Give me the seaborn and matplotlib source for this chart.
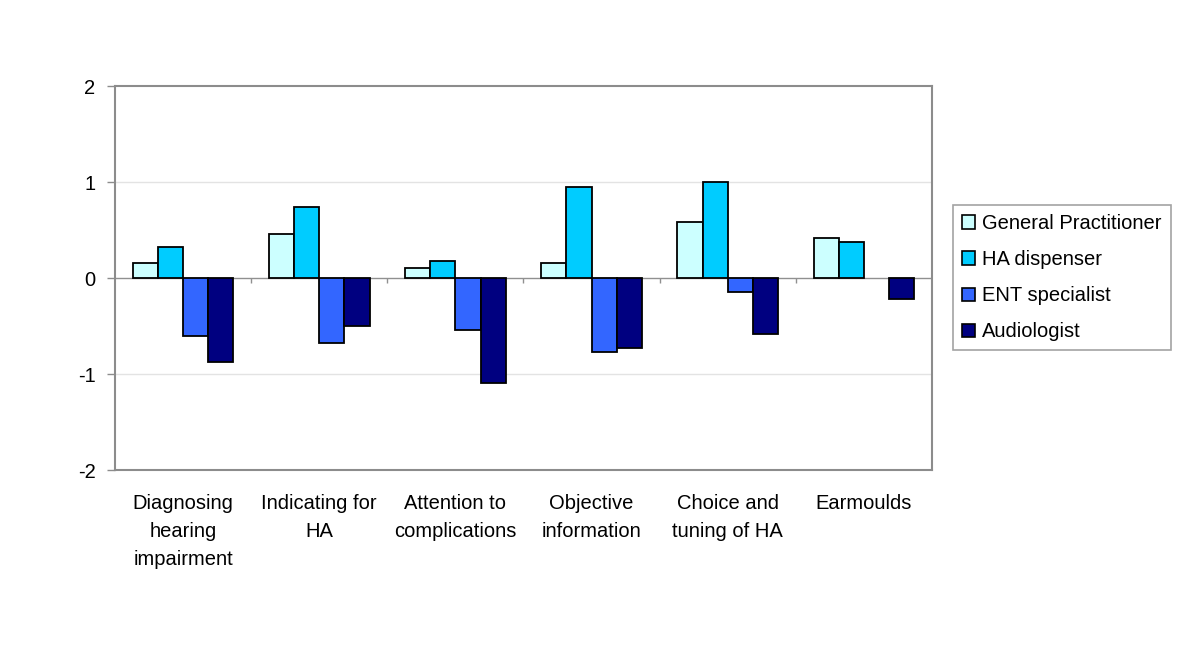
import numpy as np
import pandas as pd
import matplotlib
matplotlib.use("Agg")
import matplotlib.pyplot as plt
from matplotlib.patches import Patch
import seaborn as sns

categories = ["Diagnosing\nhearing\nimpairment", "Indicating for\nHA",
              "Attention to\ncomplications", "Objective\ninformation",
              "Choice and\ntuning of HA", "Earmoulds"]
groups = ["General Practitioner", "HA dispenser", "ENT specialist", "Audiologist"]
gp = [0.16, 0.46, 0.10, 0.16, 0.58, 0.42]
ha = [0.32, 0.74, 0.18, 0.95, 1.00, 0.38]
ent = [-0.60, -0.68, -0.54, -0.77, -0.15, np.nan]
aud = [-0.87, -0.50, -1.09, -0.73, -0.58, -0.22]
colors = ["#CCFFFF", "#00CCFF", "#3366FF", "#000080"]

rows = []
for g, vals in zip(groups, [gp, ha, ent, aud]):
    for c, v in zip(categories, vals):
        rows.append({"category": c, "group": g, "value": v})
df = pd.DataFrame(rows)

sns.set_style("white")
plt.rcParams["font.family"] = ["Liberation Sans", "DejaVu Sans"]
plt.rcParams["text.color"] = "black"

fig = plt.figure(figsize=(12, 6.57), dpi=100)
ax = fig.add_axes([115 / 1200, 1 - 470 / 657, 817 / 1200, 384 / 657])

sns.barplot(data=df, x="category", y="value", hue="group", order=categories,
            hue_order=groups, palette=colors, saturation=1, width=0.74,
            edgecolor="black", linewidth=1.3, ax=ax, legend=False, errorbar=None)

ax.set_ylim(-2, 2)
ax.set_xlim(-0.5, len(categories) - 0.5)
ax.set_yticks([-2, -1, 0, 1, 2])
ax.set_yticklabels(["-2", "-1", "0", "1", "2"])
for y in [-1, 1]:
    ax.axhline(y, color="#e3e3e3", lw=1, zorder=0)
ax.axhline(0, color="#909090", lw=1, zorder=0.5)
ax.vlines(np.arange(0.5, len(categories) - 0.5), -0.05, 0, color="#909090", lw=1)

for s in ax.spines.values():
    s.set_color("#8c8c8c")
    s.set_linewidth(1.5)

ax.tick_params(axis="y", direction="out", length=6, width=1, color="#8c8c8c",
               labelsize=14.5, labelcolor="black", pad=8, left=True)
ax.tick_params(axis="x", length=0, labelsize=14.5, labelcolor="black", pad=17)
for lbl in ax.get_xticklabels():
    lbl.set_linespacing(1.6)
ax.set_xlabel("")
ax.set_ylabel("")

handles = [Patch(facecolor=c, edgecolor="black", linewidth=1.2, label=g)
           for c, g in zip(colors, groups)]
leg = fig.legend(handles=handles, loc="upper left", bbox_to_anchor=(953 / 1200, 1 - 205 / 657),
                 frameon=True, fancybox=False, fontsize=14.5, handlelength=0.65,
                 handleheight=0.65, handletextpad=0.35, labelspacing=0.85,
                 borderpad=0.45, borderaxespad=0)
leg.get_frame().set_edgecolor("#8c8c8c")
leg.get_frame().set_linewidth(1.2)

fig.savefig("out.png", dpi=100)
